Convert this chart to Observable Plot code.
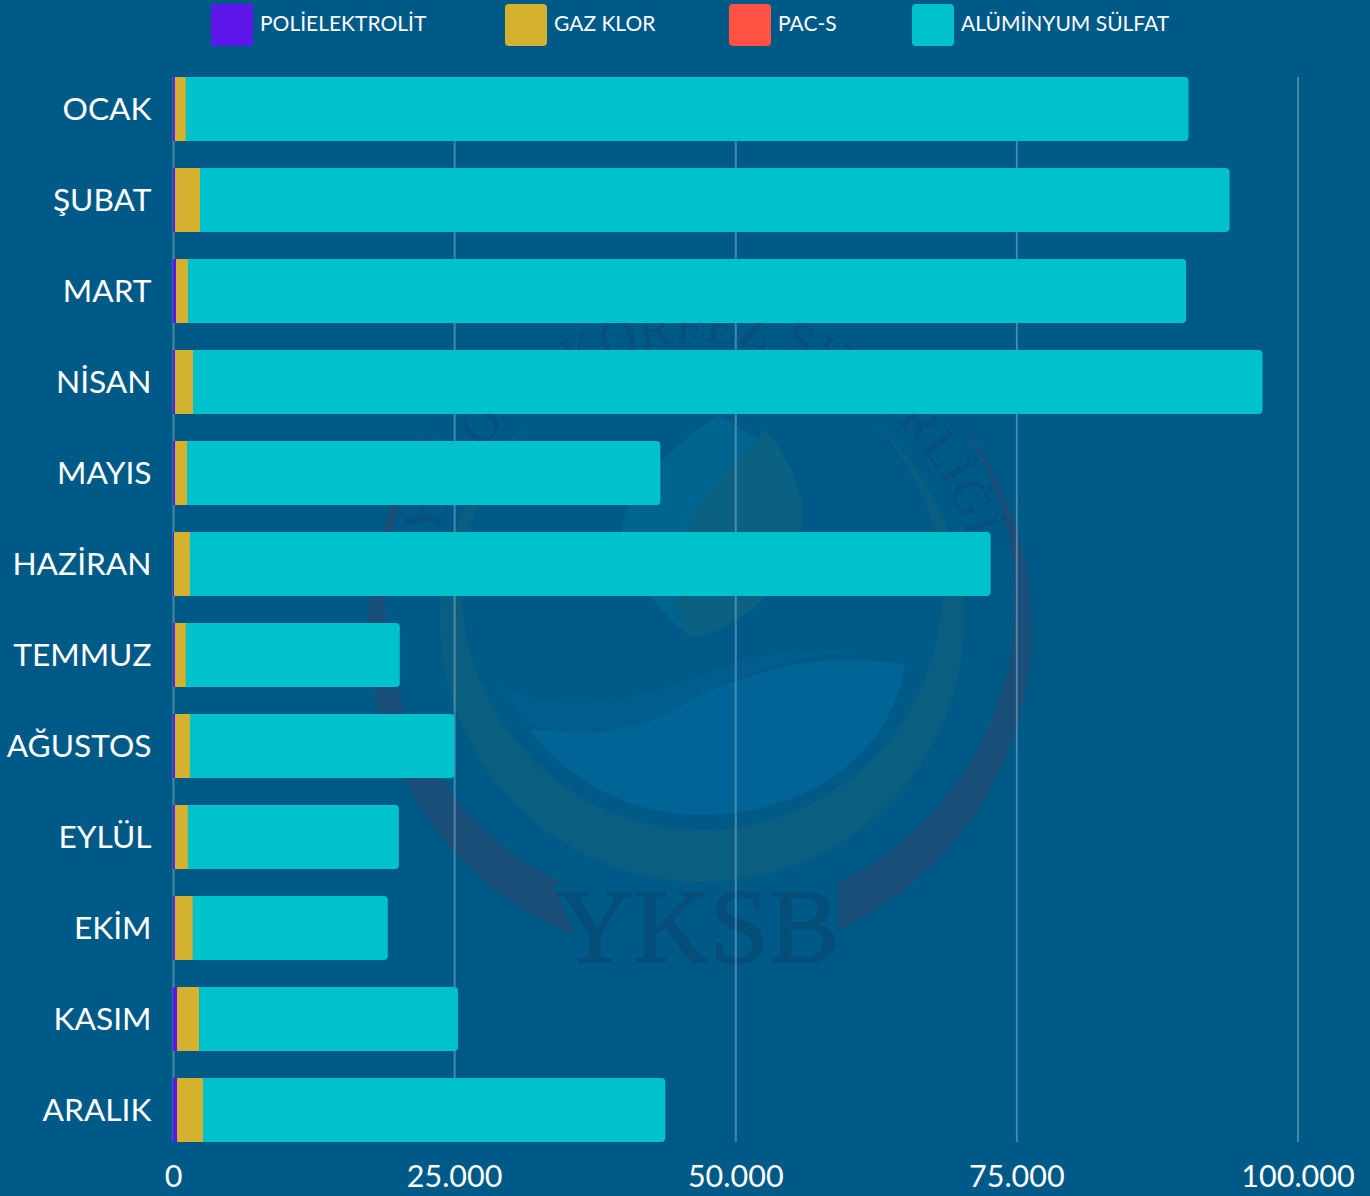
<!DOCTYPE html>
<html lang="tr">
<head>
<meta charset="utf-8">
<script src="https://cdn.jsdelivr.net/npm/d3@7"></script>
<script src="https://cdn.jsdelivr.net/npm/@observablehq/plot@0.6"></script>
<style>
  html, body { margin: 0; padding: 0; background: #005a88; }
  body { position: relative; width: 1370px; height: 1196px; overflow: hidden; font-family: Lato, sans-serif; }
  #watermark { position: absolute; left: 0; top: 0; }
  #legend { position: absolute; left: 0; top: 0; width: 1370px; height: 60px; color: #fff; font-size: 21px; }
  #legend .item { position: absolute; top: 4px; height: 42px; display: flex; align-items: center; white-space: nowrap; }
  #legend .sw { width: 42px; height: 42px; border-radius: 4px; margin-right: 7px; }
  #legend .lb { position: relative; top: -3px; }
  #chart { position: absolute; left: 0; top: 60px; }
  #chart svg { display: block; background: transparent; }
</style>
</head>
<body>
<svg id="watermark" width="1370" height="1196" aria-hidden="true">
  <defs>
    <path id="arcT" d="M 422 622 A 280 280 0 0 1 982 622"></path>
  </defs>
  <circle cx="700" cy="628" r="332" fill="#1a4f79"></circle>
  <circle cx="700" cy="600" r="315" fill="#005a88"></circle>
  <path d="M553 885 L592 975 L838 975 L838 885 Z" fill="#005a88"></path>
  <circle cx="702" cy="620" r="262" fill="#0a5f80"></circle>
  <circle cx="702" cy="590" r="240" fill="#005a88"></circle>
  <path d="M718 415 C665 450 620 500 622 535 C632 575 655 605 682 630 L700 560 L760 440 Z" fill="#006490"></path>
  <path d="M765 430 C720 480 680 520 675 560 C670 600 680 630 690 637 C750 630 800 570 803 510 C800 480 780 445 765 430 Z" fill="#0a6181"></path>
  <path d="M905 665 C890 760 800 815 700 815 C620 815 560 770 530 730 C620 735 690 690 780 668 C830 655 880 660 905 665 Z" fill="#006596"></path>
  <path d="M495 682 C560 720 640 700 720 668 C770 650 820 648 860 652 C800 655 750 670 700 695 C640 735 580 740 530 725 Z" fill="#005d8e"></path>
  <text font-family="Liberation Serif, serif" font-size="50" fill="#07507c" letter-spacing="1.5"><textPath href="#arcT" startOffset="50%" text-anchor="middle">YALOVA KÖRFEZ SU BİRLİĞİ</textPath></text>
  <text x="698" y="962" text-anchor="middle" font-family="Liberation Serif, serif" font-size="106" fill="#064e7a" stroke="#064e7a" stroke-width="1.5">YKSB</text>
</svg>
<div id="legend"></div>
<div id="chart"></div>
<script>
const months = ["OCAK","ŞUBAT","MART","NİSAN","MAYIS","HAZİRAN","TEMMUZ","AĞUSTOS","EYLÜL","EKİM","KASIM","ARALIK"];
const poliElektrolit = [170,180,270,180,180,90,170,180,170,170,360,360];
const gazKlor = [980,2220,1070,1600,1070,1420,980,1330,1160,1600,1960,2310];
const pacS = [0,0,0,0,0,0,0,0,0,0,0,0];
const aluminyumSulfat = [89160,91560,88760,95110,42090,71200,19020,23510,18760,17330,23020,41110];
const xTicks = [0,25000,50000,75000,100000];
const seriesNames = ["POLİELEKTROLİT","GAZ KLOR","PAC-S","ALÜMİNYUM SÜLFAT"];
const seriesColors = ["#5e17eb","#d4b12f","#ff5243","#00c2cc"];
const seriesValues = [poliElektrolit,gazKlor,pacS,aluminyumSulfat];
const legendLefts = [211,505,729,912];

const rows = seriesNames.flatMap((s,i) => months.map((m,j) => ({month:m, series:s, value:seriesValues[i][j]})));
const fmt = d3.formatLocale({decimal:",",thousands:".",grouping:[3],currency:["",""]}).format(",");

const legend = d3.select("#legend");
seriesNames.forEach((s,i) => {
  const it = legend.append("div").attr("class","item").style("left",legendLefts[i]+"px");
  it.append("div").attr("class","sw").style("background",seriesColors[i]);
  it.append("div").attr("class","lb").text(s);
});

const chart = Plot.plot({
  width: 1370,
  height: 1136,
  marginLeft: 173,
  marginRight: 72.5,
  marginTop: 17,
  marginBottom: 54,
  style: {background:"transparent", fontFamily:"Lato, sans-serif", color:"#fff"},
  x: {domain:[0,100000], label:null},
  y: {domain:months, paddingInner:0.2967, paddingOuter:0, round:false, label:null},
  color: {domain:seriesNames, range:seriesColors},
  marks: [
    Plot.ruleX(xTicks, {stroke:"#fff", strokeOpacity:0.28, strokeWidth:2}),
    Plot.barX(rows.filter(d => d.series !== seriesNames[3]),
      Plot.stackX({x:"value", y:"month", fill:"series", order:seriesNames})),
    Plot.barX(months.map((m,j) => ({month:m,
        x1:poliElektrolit[j]+gazKlor[j]+pacS[j],
        x2:poliElektrolit[j]+gazKlor[j]+pacS[j]+aluminyumSulfat[j]})), {
      x1:"x1", x2:"x2", y:"month", fill:seriesColors[3], rx2:4
    }),
    Plot.axisX({ticks:xTicks, tickFormat:fmt, tickSize:0, tickPadding:23, fontSize:30.5, label:null, fill:"#fff", anchor:"bottom"}),
    Plot.axisY({tickSize:0, tickPadding:22, fontSize:31.7, label:null, fill:"#fff", dy:0})
  ]
});
document.getElementById("chart").appendChild(chart);
</script>
</body>
</html>
